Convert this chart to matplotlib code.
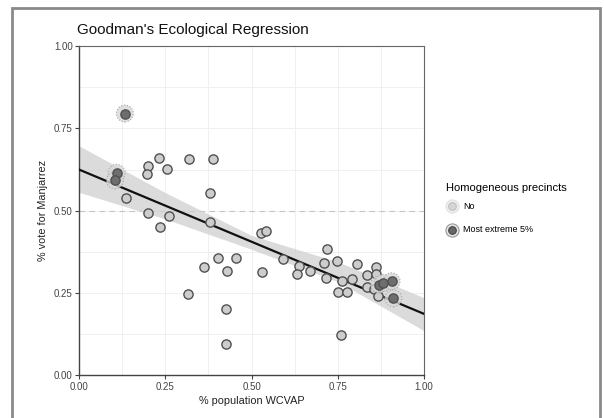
import numpy as np
import matplotlib
matplotlib.use("Agg")
import matplotlib.pyplot as plt
from matplotlib.patches import Rectangle
from matplotlib.ticker import MultipleLocator

plt.rcParams['font.family'] = ['Liberation Sans', 'DejaVu Sans']

# precinct shares: WCVAP population vs. vote for Manjarrez
wcvap = [0.135, 0.199, 0.198, 0.233, 0.254, 0.320, 0.389, 0.379, 0.201, 0.262,
         0.236, 0.380, 0.528, 0.541, 0.402, 0.456, 0.363, 0.430, 0.529, 0.317,
         0.426, 0.426, 0.590, 0.639, 0.632, 0.670, 0.720, 0.711, 0.748, 0.716,
         0.761, 0.792, 0.752, 0.776, 0.807, 0.834, 0.860, 0.861, 0.835, 0.855,
         0.866, 0.758]
vote = [0.538, 0.636, 0.613, 0.660, 0.626, 0.657, 0.657, 0.553, 0.493, 0.483,
        0.451, 0.465, 0.431, 0.440, 0.356, 0.358, 0.330, 0.318, 0.315, 0.246,
        0.202, 0.096, 0.354, 0.333, 0.308, 0.318, 0.385, 0.341, 0.348, 0.295,
        0.288, 0.294, 0.254, 0.254, 0.337, 0.305, 0.328, 0.308, 0.269, 0.261,
        0.241, 0.123]

# homogeneous precincts (most extreme 5%)
ext_wcvap = [0.133, 0.109, 0.104, 0.870, 0.882, 0.906, 0.911]
ext_vote = [0.795, 0.615, 0.592, 0.276, 0.281, 0.286, 0.234]

# fitted line and confidence band
fit_x = [0.0, 1.0]
fit_y = [0.625, 0.187]
band_x = [0.0, 0.25, 0.5, 0.75, 1.0]
band_lo = [0.556, 0.475, 0.383, 0.285, 0.136]
band_hi = [0.697, 0.555, 0.425, 0.345, 0.236]

ticks = [0.0, 0.25, 0.5, 0.75, 1.0]
tick_labels = ['0.00', '0.25', '0.50', '0.75', '1.00']

fig = plt.figure(figsize=(6.04, 4.18), dpi=100)
ax = fig.add_axes([0.1308, 0.1017, 0.5712, 0.7883])

# outer frame
fig.patches.append(Rectangle((12 / 604, -0.05), (600 - 12) / 604, 1.05 - 8 / 418,
                             transform=fig.transFigure, fill=False,
                             edgecolor='#8a8a8a', linewidth=2.0))

ax.set_xlim(0, 1)
ax.set_ylim(0, 1)
ax.set_xticks(ticks)
ax.set_xticklabels(tick_labels)
ax.set_yticks(ticks)
ax.set_yticklabels(tick_labels)
ax.xaxis.set_minor_locator(MultipleLocator(0.125))
ax.yaxis.set_minor_locator(MultipleLocator(0.125))
ax.grid(True, which='both', color='#eeeeee', linewidth=0.6)
ax.set_axisbelow(True)
ax.tick_params(which='minor', length=0)
ax.tick_params(which='major', length=3, width=0.8, color='#444444',
               labelsize=7, labelcolor='#444444', pad=1.5)
for side in ['left', 'bottom']:
    ax.spines[side].set_color('#444444')
    ax.spines[side].set_linewidth(1.0)
for side in ['top', 'right']:
    ax.spines[side].set_color('#666666')
    ax.spines[side].set_linewidth(0.8)

ax.axhline(0.5, color='#c4c4c4', linestyle=(0, (5, 4)), linewidth=0.8, zorder=1)

ax.fill_between(band_x, band_lo, band_hi, color='#cfcfcf', alpha=0.75,
                linewidth=0, zorder=2)
ax.plot(fit_x, fit_y, color='#111111', linewidth=1.6, zorder=3)

ax.scatter(wcvap, vote, s=44, facecolor='#cdcdcd', edgecolor='#505050',
           linewidth=1.0, zorder=4)
ax.scatter(ext_wcvap, ext_vote, s=150, facecolor='#d8d8d8',
           edgecolor='#999999', linewidth=0.8, linestyle=':',
           alpha=0.8, zorder=5)
ax.scatter(ext_wcvap, ext_vote, s=44, facecolor='#6e6e6e', edgecolor='#505050',
           linewidth=1.0, zorder=6)

ax.set_xlabel('% population WCVAP', fontsize=7.8, color='#222222', labelpad=3)
ax.set_ylabel('% vote for Manjarrez', fontsize=7.8, color='#222222', labelpad=4)

fig.text(77 / 604, 1 - 30 / 418, "Goodman's Ecological Regression",
         fontsize=11, ha='left', va='center', color='#111111')

# legend
h_no = (ax.scatter([], [], s=90, facecolor='#eeeeee', edgecolor='#dddddd', linewidth=0.6),
        ax.scatter([], [], s=30, facecolor='#d6d6d6', edgecolor='#c0c0c0', linewidth=0.8))
h_ext = (ax.scatter([], [], s=90, facecolor='#e4e4e4', edgecolor='#999999', linewidth=0.8),
         ax.scatter([], [], s=30, facecolor='#666666', edgecolor='#444444', linewidth=0.8))
leg = fig.legend([h_no, h_ext], ['No', 'Most extreme 5%'],
                 title='Homogeneous precincts', loc='upper left',
                 bbox_to_anchor=(440 / 604, 1 - 177 / 418), frameon=False,
                 fontsize=6.5, title_fontsize=8, handlelength=1.3,
                 handletextpad=0.6, labelspacing=1.6, borderpad=0.2)
leg._legend_box.align = 'left'
leg._legend_box.sep = 6

fig.savefig('out.png', dpi=100)
